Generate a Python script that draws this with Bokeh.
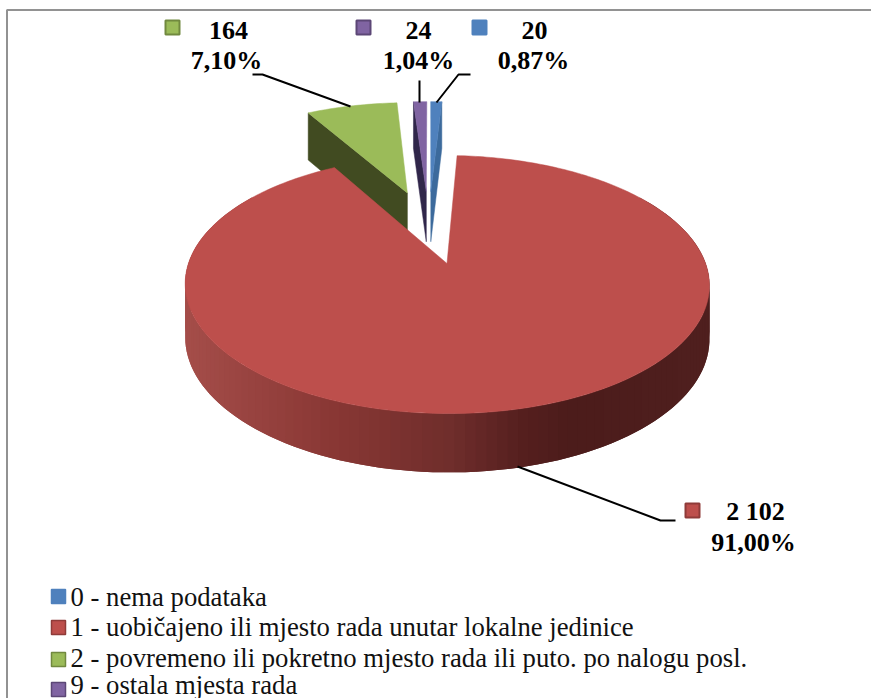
import numpy as np
from bokeh.plotting import figure
from bokeh.models import Range1d
from bokeh.core.properties import value
from bokeh.embed import file_html
from bokeh.resources import INLINE

# --- data ---
categories = ["0 - nema podataka",
              "1 - uobičajeno ili mjesto rada unutar lokalne jedinice",
              "2 - povremeno ili pokretno mjesto rada ili puto. po nalogu posl.",
              "9 - ostala mjesta rada"]
counts = [20, 2102, 164, 24]
count_labels = ["20", "2 102", "164", "24"]
percent_labels = ["0,87%", "91,00%", "7,10%", "1,04%"]

# --- styles ---
top_colors = ["#4f81bd", "#bd4f4c", "#9bbb59", "#8064a2"]
marker_lines = ["#4f81bd", "#8f3b39", "#71893f", "#5c4776"]
wall_colors = ["#3c6a9c", None, "#414b21", "#30264a"]
W, H = 871, 698
FONT = value("Liberation Serif")

# projection of the pie (red slice's frame)
X0, Y0, A, B, K, SHEAR = 446.5, 263.0, 258.6, 125.6, 0.163, -2.0
EXPLODE = 0.32


def project(x, y):
    y = np.asarray(y)
    s = 1.0 / (1.0 + K * y)
    return X0 + A * np.asarray(x) * s + SHEAR * y, Y0 - B * y * s, 23.0 + 30.0 * s


fractions = np.array(counts) / sum(counts)
ends = np.cumsum(fractions) * 2 * np.pi
starts = ends - fractions * 2 * np.pi
mids = (starts + ends) / 2
ox = EXPLODE * (np.sin(mids) - np.sin(mids[1]))
oy = EXPLODE * (np.cos(mids) - np.cos(mids[1]))


def face(i):
    t = np.linspace(starts[i], ends[i], max(3, int((ends[i] - starts[i]) * 60)))
    gx = np.concatenate([[ox[i]], ox[i] + np.sin(t)])
    gy = np.concatenate([[oy[i]], oy[i] + np.cos(t)])
    return project(gx, gy)


def side(i, ang):
    gx = np.array([ox[i], ox[i] + np.sin(ang)])
    gy = np.array([oy[i], oy[i] + np.cos(ang)])
    x, y, d = project(gx, gy)
    return [x[0], x[1], x[1], x[0]], [y[0], y[1], y[1] + d[1], y[0] + d[0]]


p = figure(width=W, height=H, x_range=Range1d(0, W), y_range=Range1d(H, 0),
           output_backend="svg", toolbar_location=None, min_border=0,
           x_axis_location=None, y_axis_location=None, outline_line_color=None)
p.grid.visible = False

# frame
p.line([6.5, 6.5, W], [H, 9.5, 9.5], line_color="#929292", line_width=2)

# walls and faces of the small slices, back to front
for i, ang in [(3, starts[3]), (0, ends[0]), (2, starts[2])]:
    wx, wy = side(i, ang)
    p.patch(wx, wy, fill_color=wall_colors[i], line_color=wall_colors[i], line_width=0.5)
    fx, fy, _ = face(i)
    p.patch(list(fx), list(fy), fill_color=top_colors[i], line_color=top_colors[i], line_width=0.5)

# red slice's outer wall, shaded strip by strip (overlapping, so no seams)
shade_x = [185, 330, 450, 520, 570, 710]
shade_r = [165, 138, 112, 86, 76, 80]
shade_g = [78, 56, 46, 32, 28, 32]
shade_b = [74, 53, 44, 31, 27, 31]
t = np.radians(np.linspace(55, 305, 126))
gx, gy = np.sin(t), np.cos(t)
rx, ry, rd = project(gx, gy)
for j in range(len(t) - 1):
    k = min(j + 2, len(t) - 1)
    xm = (rx[j] + rx[j + 1]) / 2
    c = "#%02x%02x%02x" % (int(np.interp(xm, shade_x, shade_r)),
                           int(np.interp(xm, shade_x, shade_g)),
                           int(np.interp(xm, shade_x, shade_b)))
    p.patch([rx[j], rx[j + 1], rx[k], rx[k], rx[j + 1], rx[j]],
            [ry[j], ry[j + 1], ry[k], ry[k] + rd[k], ry[j + 1] + rd[j + 1], ry[j] + rd[j]],
            fill_color=c, line_color=None)
fx, fy, _ = face(1)
p.patch(list(fx), list(fy), fill_color=top_colors[1], line_color=top_colors[1], line_width=0.5)

# leader lines
for lx, ly in [([252, 262, 350], [74, 74, 106]),
               ([419, 419], [80, 102]),
               ([470, 458, 436], [74, 74, 102]),
               ([517, 660, 675], [466, 520, 520])]:
    p.line(lx, ly, line_color="black", line_width=2)

# data labels
label_cx = [534, 755, 228, 418]
label_px = [533, 753, 226, 418]
label_y1 = [30, 511, 30, 30]
label_y2 = [60, 542, 60, 60]
key_x = [472, 685, 165, 356]
key_y = [20, 503, 20, 20]
for i in range(4):
    p.text([label_cx[i]], [label_y1[i]], text=[count_labels[i]], text_font=FONT, text_font_style="bold",
           text_font_size="26px", text_align="center", text_baseline="middle", text_color="black")
    p.text([label_px[i]], [label_y2[i]], text=[percent_labels[i]], text_font=FONT, text_font_style="bold",
           text_font_size="26px", text_align="center", text_baseline="middle", text_color="black")
    p.quad(left=[key_x[i]], right=[key_x[i] + 14], top=[key_y[i]], bottom=[key_y[i] + 14],
           fill_color=top_colors[i], line_color=marker_lines[i], line_width=2)

# legend
legend_y = [596, 626, 657, 684]
legend_key = [589, 620, 652, 682]
for i in range(4):
    p.quad(left=[51], right=[65], top=[legend_key[i]], bottom=[legend_key[i] + 14],
           fill_color=top_colors[i], line_color=marker_lines[i], line_width=1.5)
    p.text([70], [legend_y[i]], text=[categories[i]], text_font=FONT, text_font_size="26.7px",
           text_align="left", text_baseline="middle", text_color="#111111")

open("out.html", "w").write(file_html(p, INLINE))
